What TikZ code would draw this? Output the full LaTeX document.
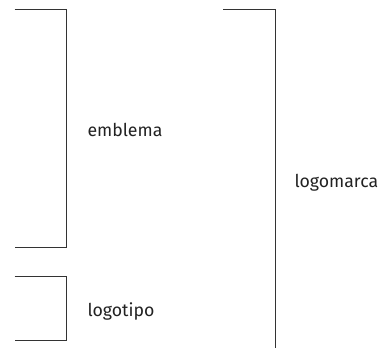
\documentclass[tikz,border=0pt]{standalone}
\usepackage{fontspec}
\setmainfont{Fira Sans}
\usepackage{tikz}
\definecolor{bracketColor}{HTML}{333333}
\definecolor{textColor}{HTML}{222222}

\begin{document}
\begin{tikzpicture}[x=1pt, y=-1pt,
    bracketLine/.style={draw=bracketColor, line width=1.2pt},
    partText/.style={anchor=base west, inner sep=0pt, text=textColor, font=\fontsize{17.7}{20}\selectfont}]
          \useasboundingbox (0,0) rectangle (385,348);
          \draw[bracketLine] (14.7,9.3) -| (66.3,247.3) -- (14.7,247.3);
          \node[partText] (emblema) at (87.3,136.7) {emblema};
          \draw[bracketLine] (14.7,276.3) -| (66.3,340.7) -- (14.7,340.7);
          \node[partText] (logotipo) at (87.3,316.7) {logotipo};
          \draw[bracketLine] (223.3,9.3) -| (275.3,348);
          \node[partText] (logomarca) at (294.3,187.3) {logomarca};
        \end{tikzpicture}
\end{document}
